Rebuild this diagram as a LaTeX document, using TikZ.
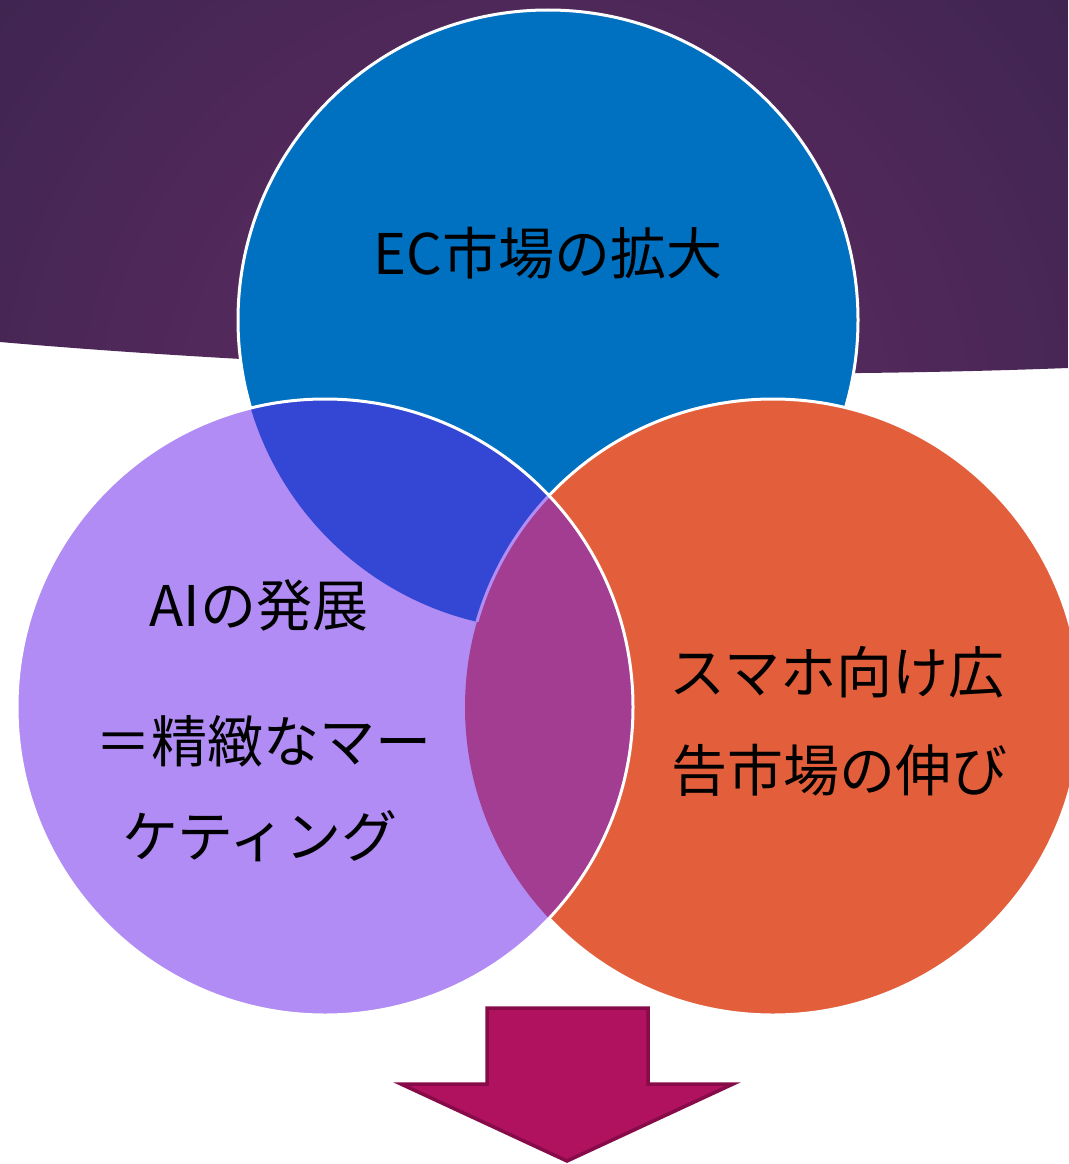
\documentclass[tikz,border=0pt]{standalone}
\usepackage{fontspec}
\setmainfont{Noto Sans CJK JP}
\begin{document}
\begin{tikzpicture}[x=1pt,y=-1pt,
  lbl/.style={font=\fontsize{56}{64}\selectfont, text=black, inner sep=0pt},
  rim/.style={draw=white, line width=3pt}]
\definecolor{bandlight}{HTML}{632D64}
\definecolor{banddark}{HTML}{3E2450}
\definecolor{ecblue}{HTML}{0070C0}
\definecolor{lav}{HTML}{B08CF4}
\definecolor{orng}{HTML}{E35F3C}
\definecolor{dblue}{HTML}{3346D4}
\definecolor{lens}{HTML}{A33D92}
\definecolor{arrfill}{HTML}{B01260}
\definecolor{arrline}{HTML}{860B48}
\useasboundingbox (0,0) rectangle (1068,1164);
\fill[white] (0,0) rectangle (1068,1164);
% purple band
\path[path picture={\shade[inner color=bandlight, outer color=banddark] (534,430) circle (720);}]
  (0,0) -- (1068,0) -- (1068,368) .. controls (700,382) and (300,368) .. (0,342) -- cycle;
% blue circle
\fill[ecblue] (548,320) circle (310);
\draw[rim] (548,320) circle (310);
% orange circle
\fill[orng] (773,707) circle (308);
\draw[rim] (773,707) circle (308);
% lavender circle
\fill[lav] (325,707) circle (308);
% blue ∩ lavender
\begin{scope}
  \clip (325,707) circle (308);
  \fill[dblue] (548,320) circle (310);
\end{scope}
% lavender ∩ orange
\begin{scope}
  \clip (325,707) circle (308);
  \fill[lens] (773,707) circle (308);
\end{scope}
% faint lens edge
\begin{scope}
  \clip (325,707) circle (308);
  \begin{scope}
    \clip (548,320) circle (310);
    \draw[lav, line width=3pt] (773,707) circle (308);
  \end{scope}
\end{scope}
\draw[rim] (325,707) circle (308);
% arrow
\draw[fill=arrfill, draw=arrline, line width=3.5pt, line join=miter]
  (487,1008) -- (648,1008) -- (648,1084) -- (733,1084) -- (567,1161) -- (401,1084) -- (487,1084) -- cycle;
% labels
\node[lbl] (ec) at (548,253) {EC市場の拡大};
\node[lbl] (ai1) at (259,605) {AIの発展};
\node[lbl] (ai2) at (263,741) {＝精緻なマー};
\node[lbl] (ai3) at (260,836) {ケティング};
\node[lbl] (sp1) at (837,672) {スマホ向け広};
\node[lbl] (sp2) at (839,770) {告市場の伸び};
\end{tikzpicture}
\end{document}
